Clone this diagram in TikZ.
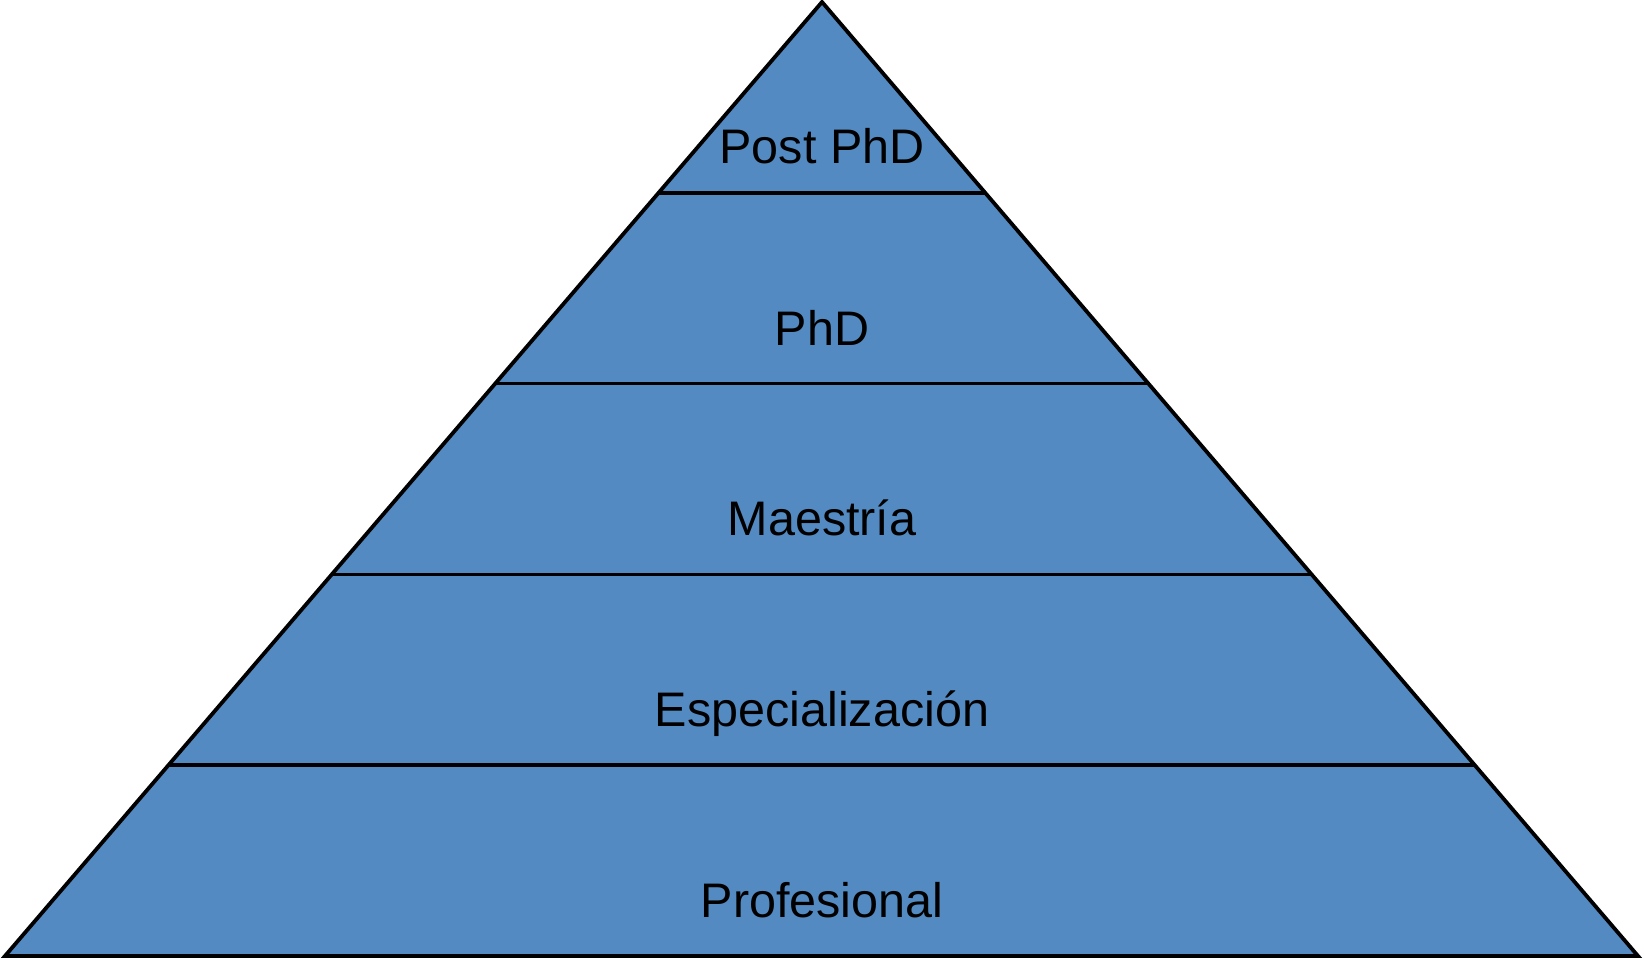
\documentclass[tikz,border=0pt]{standalone}
\usepackage{fontspec}
\setmainfont{Liberation Sans}
\usetikzlibrary{calc}
\definecolor{pyrblue}{RGB}{84,138,194}
\begin{document}
\begin{tikzpicture}[x=1pt,y=1pt,
  edge/.style={draw=black,line width=3.8pt,line join=miter},
  level/.style={draw=black,line width=3.8pt},
  lbl/.style={anchor=base,inner sep=0pt,font=\fontsize{48.5}{58}\selectfont}]
\useasboundingbox (0,0) rectangle (1644,959);
\coordinate (A) at (822,957);
\coordinate (BL) at (5,3);
\coordinate (BR) at (1638,3);
\fill[pyrblue] (A) -- (BL) -- (BR) -- cycle;
% level boundaries
\foreach \name/\t in {l1/0.2,l2/0.4,l3/0.6,l4/0.8}{
  \coordinate (\name L) at ($(BL)!\t!(A)$);
  \coordinate (\name R) at ($(BR)!\t!(A)$);
}
\draw[level] (l1L) -- (l1R);
\draw[level] (l2L) -- (l2R);
\draw[level] (l3L) -- (l3R);
\draw[level] (l4L) -- (l4R);
\draw[edge] (A) -- (BL) -- (BR) -- cycle;
\node[lbl] (postphd) at (822,959-164) {Post PhD};
\node[lbl] (phd) at (822,959-346) {PhD};
\node[lbl] (maestria) at (822,959-536) {Maestría};
\node[lbl] (espec) at (822,959-727) {Especialización};
\node[lbl] (prof) at (822,959-917) {Profesional};
\end{tikzpicture}
\end{document}
